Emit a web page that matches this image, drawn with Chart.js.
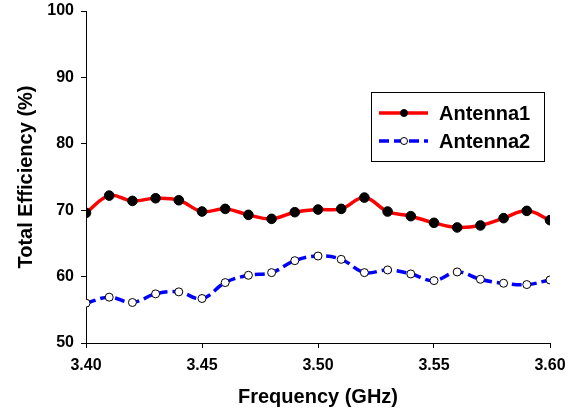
<!DOCTYPE html>
<html>
<head>
<meta charset="utf-8">
<script src="https://cdn.jsdelivr.net/npm/chart.js@4.4.1/dist/chart.umd.min.js"></script>
<style>
  html, body { margin: 0; padding: 0; background: #fff; }
  #wrap { width: 580px; height: 416px; }
</style>
</head>
<body>
<div id="wrap"><canvas id="myChart"></canvas></div>
<script>
// datos
const frecuencias = [3.40, 3.41, 3.42, 3.43, 3.44, 3.45, 3.46, 3.47, 3.48, 3.49, 3.50,
                     3.51, 3.52, 3.53, 3.54, 3.55, 3.56, 3.57, 3.58, 3.59, 3.60];
const antena1 = [69.6, 72.2, 71.4, 71.8, 71.5, 69.8, 70.2, 69.3, 68.7, 69.7, 70.1,
                 70.2, 71.9, 69.8, 69.1, 68.1, 67.4, 67.7, 68.8, 69.9, 68.5];
const antena2 = [56.0, 56.9, 56.1, 57.4, 57.7, 56.7, 59.1, 60.2, 60.6, 62.4, 63.1,
                 62.6, 60.6, 61.0, 60.4, 59.4, 60.7, 59.6, 59.0, 58.8, 59.5];
const nombres = ['Antenna1', 'Antenna2'];
const ticksX = [3.40, 3.45, 3.50, 3.55, 3.60];
const ticksY = [50, 60, 70, 80, 90, 100];

const FUENTE = '"Liberation Sans", Arial, sans-serif';

function puntos(valores) {
    return frecuencias.map((f, i) => ({ x: f, y: valores[i] }));
}

// leyenda dentro del area, con borde
const leyendaCaja = {
    id: 'leyendaCaja',
    afterDraw(chart) {
        const ctx = chart.ctx;
        const x0 = 371, y0 = 92, w = 173, h = 69;
        ctx.save();
        ctx.fillStyle = '#fff';
        ctx.fillRect(x0, y0, w, h);
        ctx.strokeStyle = '#000';
        ctx.lineWidth = 1;
        ctx.strokeRect(x0 + 0.5, y0 + 0.5, w, h);

        chart.data.datasets.forEach((ds, i) => {
            const y = 113 + i * 28;
            ctx.strokeStyle = ds.borderColor;
            ctx.lineWidth = ds.borderWidth;
            ctx.setLineDash(ds.borderDash || []);
            ctx.beginPath();
            ctx.moveTo(379, y);
            ctx.lineTo(428, y);
            ctx.stroke();
            ctx.setLineDash([]);
            ctx.beginPath();
            ctx.arc(404, y, 3.5, 0, Math.PI * 2);
            ctx.fillStyle = ds.pointBackgroundColor;
            ctx.fill();
            ctx.lineWidth = 1;
            ctx.strokeStyle = '#000';
            ctx.stroke();

            ctx.fillStyle = '#000';
            ctx.font = 'bold 20px ' + FUENTE;
            ctx.textBaseline = 'middle';
            ctx.textAlign = 'left';
            ctx.fillText(ds.label, 439, y + 1);
        });
        ctx.restore();
    }
};

const data = {
    datasets: [{
        label: nombres[0],
        data: puntos(antena1),
        borderColor: '#ff0000',
        borderWidth: 3.5,
        tension: 0.4,
        pointRadius: 4.8,
        pointBackgroundColor: '#000',
        pointBorderColor: '#000',
        pointBorderWidth: 1
    }, {
        label: nombres[1],
        data: puntos(antena2),
        borderColor: '#0000ff',
        borderWidth: 3.5,
        borderDash: [10, 5],
        tension: 0.4,
        pointRadius: 4,
        pointBackgroundColor: '#fff',
        pointBorderColor: '#000',
        pointBorderWidth: 1
    }]
};

const config = {
    type: 'line',
    data: data,
    options: {
        responsive: true,
        maintainAspectRatio: false,
        animation: false,
        layout: {
            padding: { left: 0, right: 30, top: 11, bottom: 0 }
        },
        plugins: {
            legend: { display: false },
            tooltip: { enabled: false }
        },
        scales: {
            x: {
                type: 'linear',
                min: 3.40,
                max: 3.60,
                afterFit: s => { s.height = 73; },
                afterBuildTicks: s => { s.ticks = ticksX.map(v => ({ value: v })); },
                grid: { drawOnChartArea: false, drawTicks: true, tickLength: 5, color: '#000' },
                border: { color: '#000', width: 1 },
                ticks: {
                    color: '#000',
                    padding: 8,
                    maxRotation: 0,
                    font: { family: FUENTE, size: 16, weight: 'bold' },
                    callback: v => Number(v).toFixed(2)
                },
                title: {
                    display: true,
                    text: 'Frequency (GHz)',
                    color: '#000',
                    padding: { top: 0, bottom: 7 },
                    font: { family: FUENTE, size: 20, weight: 'bold' }
                }
            },
            y: {
                min: 50,
                max: 100,
                afterFit: s => { s.width = 86; s.paddingTop = 0; s.paddingBottom = 0; },
                afterBuildTicks: s => { s.ticks = ticksY.map(v => ({ value: v })); },
                grid: { drawOnChartArea: false, drawTicks: true, tickLength: 5, color: '#000' },
                border: { color: '#000', width: 1 },
                ticks: {
                    color: '#000',
                    padding: 7,
                    font: { family: FUENTE, size: 16, weight: 'bold' }
                },
                title: {
                    display: true,
                    text: 'Total Efficiency (%)',
                    color: '#000',
                    padding: { top: 14, bottom: 0 },
                    font: { family: FUENTE, size: 20, weight: 'bold' }
                }
            }
        }
    },
    plugins: [leyendaCaja]
};

const myChart = new Chart(document.getElementById('myChart'), config);
</script>
</body>
</html>
